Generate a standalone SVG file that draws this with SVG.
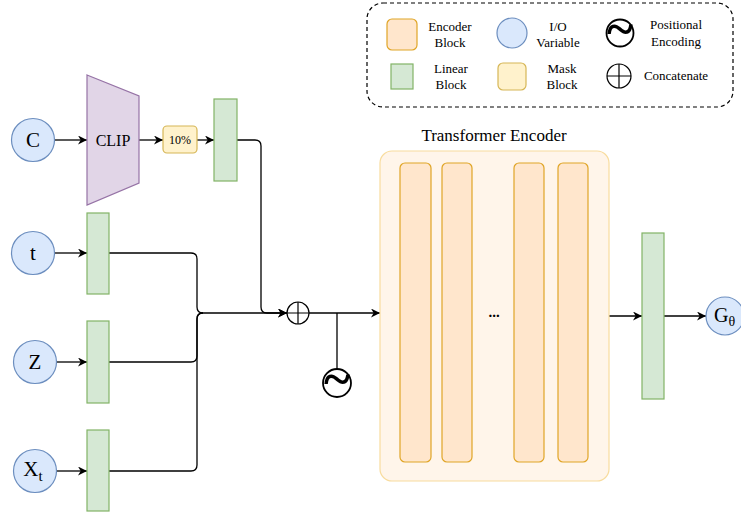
<svg xmlns="http://www.w3.org/2000/svg" width="741" height="514" viewBox="0 0 741 514">
<style>
text{font-family:"Liberation Serif","Times New Roman",serif;fill:#000}
.io{fill:#dae8fc;stroke:#6c8ebf;stroke-width:1.2}
.lin{fill:#d5e8d4;stroke:#82b366;stroke-width:1.2}
.mask{fill:#fff2cc;stroke:#d6b656;stroke-width:1.2}
.enc{fill:#ffe6cc;stroke:#e0a526;stroke-width:1.2}
.clip{fill:#e1d5e7;stroke:#9673a6;stroke-width:1.2}
.sym{fill:#fff;stroke:#000;stroke-width:1.2}
.wire{fill:none;stroke:#000;stroke-width:1.3}
.lg{font-size:13px;text-anchor:middle}
.big{font-size:21px;text-anchor:middle}
.tilde{font-size:50px;font-weight:bold;text-anchor:middle}
</style>
<defs>
<marker id="arr" viewBox="0 0 10 10" refX="10" refY="5" markerWidth="10" markerHeight="9" markerUnits="userSpaceOnUse" orient="auto">
<path d="M0,0 L10,5 L0,10 L3,5 z" fill="#000"/>
</marker>
</defs>

<g id="legend">
<rect x="367" y="3" width="366" height="104" rx="16" fill="#fff" stroke="#000" stroke-width="1.2" stroke-dasharray="4 3"/>
<rect x="387" y="19" width="30" height="31" rx="5" class="enc"/>
<text class="lg" x="450" y="31">Encoder</text>
<text class="lg" x="450" y="47">Block</text>
<circle cx="512" cy="33" r="15" class="io"/>
<text class="lg" x="558" y="31">I/O</text>
<text class="lg" x="558" y="47">Variable</text>
<circle cx="620" cy="33" r="13.5" fill="#fff" stroke="#000" stroke-width="1.8"/>
<text class="tilde" x="620" y="46">~</text>
<text class="lg" x="676" y="29">Positional</text>
<text class="lg" x="676" y="46">Encoding</text>
<rect x="391" y="64" width="22" height="25" class="lin"/>
<text class="lg" x="451" y="73">Linear</text>
<text class="lg" x="451" y="89">Block</text>
<rect x="498" y="63" width="28" height="27" rx="5" class="mask"/>
<text class="lg" x="562" y="73">Mask</text>
<text class="lg" x="562" y="89">Block</text>
<circle cx="619" cy="76" r="12" class="sym"/>
<path d="M607,76 H631 M619,64 V88" stroke="#000" stroke-width="1.2"/>
<text class="lg" x="676" y="80">Concatenate</text>
</g>

<g id="connectors">
<path class="wire" d="M55,140 H87" marker-end="url(#arr)"/>
<path class="wire" d="M139,140 H163" marker-end="url(#arr)"/>
<path class="wire" d="M197,140 H214" marker-end="url(#arr)"/>
<path class="wire" d="M237,140 H255 Q261,140 261,146 V307 Q261,313 267,313 H287" marker-end="url(#arr)"/>
<path class="wire" d="M55,253 H87" marker-end="url(#arr)"/>
<path class="wire" d="M57,362 H87" marker-end="url(#arr)"/>
<path class="wire" d="M57,471 H87" marker-end="url(#arr)"/>
<path class="wire" d="M109,253 H191 Q197,253 197,259 V307 Q197,313 203,313"/>
<path class="wire" d="M109,362 H191 Q197,362 197,356 V319 Q197,313 203,313"/>
<path class="wire" d="M109,471 H191 Q197,471 197,465 V319 Q197,313 203,313"/>
<path class="wire" d="M203,313 H287" marker-end="url(#arr)"/>
<path class="wire" d="M309,313 H380" marker-end="url(#arr)"/>
<path class="wire" d="M337,313 V369"/>
<path class="wire" d="M609,316 H642" marker-end="url(#arr)"/>
<path class="wire" d="M664,316 H706" marker-end="url(#arr)"/>
</g>

<g id="node-c">
<circle cx="33" cy="140" r="21.5" class="io"/>
<text class="big" x="33" y="147">C</text>
</g>
<g id="node-clip">
<path d="M87,75 L139,96 L139,183 L87,205 Z" class="clip"/>
<text x="113" y="146" font-size="16" text-anchor="middle">CLIP</text>
</g>
<g id="node-mask">
<rect x="163" y="126" width="34" height="27" rx="4" class="mask"/>
<text x="180" y="144" font-size="12" text-anchor="middle">10%</text>
</g>
<g id="node-lin-c"><rect x="214" y="99" width="23" height="82" class="lin"/></g>

<g id="node-t">
<circle cx="33" cy="253" r="21.5" class="io"/>
<text class="big" x="33" y="260">t</text>
</g>
<g id="node-lin-t"><rect x="87" y="213" width="22" height="81" class="lin"/></g>
<g id="node-z">
<circle cx="35" cy="362" r="21.5" class="io"/>
<text class="big" x="35" y="369">Z</text>
</g>
<g id="node-lin-z"><rect x="87" y="321" width="22" height="82" class="lin"/></g>
<g id="node-xt">
<circle cx="35" cy="471" r="21.5" class="io"/>
<text class="big" x="33" y="476">X<tspan font-size="15" dy="5">t</tspan></text>
</g>
<g id="node-lin-xt"><rect x="87" y="430" width="22" height="81" class="lin"/></g>

<g id="node-concat">
<circle cx="298" cy="313" r="11" class="sym"/>
<path d="M287,313 H309 M298,302 V324" stroke="#000" stroke-width="1.2"/>
</g>
<g id="node-pe">
<circle cx="337" cy="383" r="14" fill="#fff" stroke="#000" stroke-width="1.8"/>
<text class="tilde" x="337" y="396">~</text>
</g>

<g id="node-transformer">
<text x="494" y="141" font-size="17" text-anchor="middle">Transformer Encoder</text>
<rect x="380" y="151" width="229" height="330" rx="12" fill="#fff5ea" stroke="#f8dc9e" stroke-width="1.2"/>
<rect x="400" y="163" width="31" height="299" rx="5" class="enc"/>
<rect x="442" y="163" width="30" height="299" rx="5" class="enc"/>
<rect x="514" y="163" width="30" height="299" rx="5" class="enc"/>
<rect x="558" y="163" width="30" height="299" rx="5" class="enc"/>
<text x="494" y="317" font-size="15" font-weight="bold" text-anchor="middle">...</text>
</g>

<g id="node-lin-out"><rect x="642" y="233" width="22" height="166" class="lin"/></g>
<g id="node-g">
<circle cx="725" cy="316" r="19" class="io"/>
<text x="714" y="322" font-size="20">G<tspan font-size="14" dy="4">θ</tspan></text>
</g>
</svg>
